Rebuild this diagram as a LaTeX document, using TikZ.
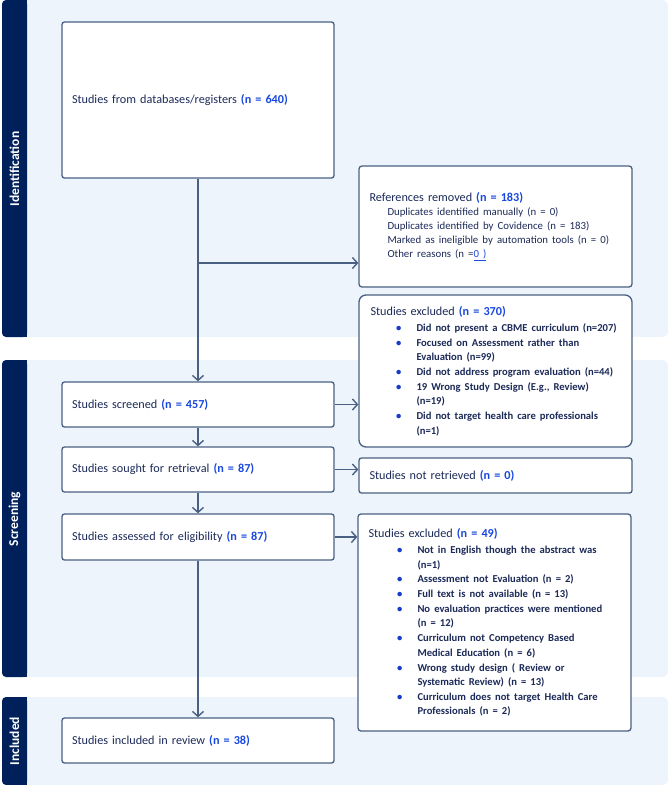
\documentclass[tikz,border=0pt]{standalone}
\usepackage{fontspec}
\setmainfont{Carlito}
\usepackage{enumitem}
\usetikzlibrary{arrows.meta, positioning, calc}

\definecolor{tabnavy}{RGB}{0, 32, 91}
\definecolor{bandbg}{RGB}{238, 244, 252}
\definecolor{boxline}{RGB}{74, 96, 130}
\definecolor{textnavy}{RGB}{28, 42, 88}
\definecolor{countblue}{RGB}{24, 72, 224}
\definecolor{dotblue}{RGB}{24, 60, 200}

\newlist{exlist}{itemize}{1}
\setlist[exlist]{label=\textcolor{dotblue}{\textbullet}, labelsep=15pt, itemsep=0.3pt, parsep=0pt, topsep=1.5pt, partopsep=0pt, before=\fontsize{10.6}{14.5}\selectfont\bfseries}

\newcommand{\cnt}[1]{\textcolor{countblue}{\textbf{#1}}}

\tikzset{
  band/.style={fill=bandbg, rounded corners=6pt},
  tab/.style={fill=tabnavy, rounded corners=4pt},
  tablabel/.style={rotate=90, text=white, font=\fontsize{13.5}{15}\selectfont\bfseries},
  flowbox/.style={draw=boxline, fill=white, line width=1.3pt, rounded corners=2.5pt, align=left, inner xsep=10pt, inner ysep=0pt, text=textnavy, font=\fontsize{12.2}{14.5}\selectfont},
  flow/.style={draw=boxline, line width=1.4pt, -{Straight Barb[length=5pt, width=11pt, line width=1.4pt]}},
}

\begin{document}
\begin{tikzpicture}[x=1pt, y=-1pt]
  \useasboundingbox (0,0) rectangle (669,785);

  % Bands
  \fill[band] (20,0) rectangle (668,337);
  \fill[band] (20,360) rectangle (668,677);
  \fill[band] (20,697) rectangle (668,785);

  % Tabs
  \fill[tab] (2,0) rectangle (27,337);
  \fill[tab] (2,360) rectangle (27,677);
  \fill[tab] (2,697) rectangle (27,785);
  \fill[tabnavy] (15,0) rectangle (27,337);
  \fill[tabnavy] (15,360) rectangle (27,677);
  \fill[tabnavy] (15,697) rectangle (27,785);
  \node[tablabel] (identlbl) at (14.5,169) {Identification};
  \node[tablabel] (screenlbl) at (14.5,519) {Screening};
  \node[tablabel] (incllbl) at (14.5,741) {Included};

  % Left column
  \node[flowbox, minimum width=272pt, minimum height=156pt, text width=252pt] (dbs) at (198,100) {Studies from databases/registers \cnt{(n = 640)}};
  \node[flowbox, minimum width=272pt, minimum height=45pt, text width=252pt] (screened) at (198,404.5) {Studies screened \cnt{(n = 457)}};
  \node[flowbox, minimum width=272pt, minimum height=45pt, text width=252pt] (sought) at (198,469.5) {Studies sought for retrieval \cnt{(n = 87)}};
  \node[flowbox, minimum width=272pt, minimum height=46pt, text width=252pt] (assessed) at (198,537) {Studies assessed for eligibility \cnt{(n = 87)}};
  \node[flowbox, minimum width=272pt, minimum height=45pt, text width=252pt] (included) at (198,740.5) {Studies included in review \cnt{(n = 38)}};

  % Right column
  \node[flowbox, rounded corners=3pt, minimum width=273pt, minimum height=121pt, text width=252pt, inner xsep=10.5pt] (refs) at (495.5,226.5) {References removed \cnt{(n = 183)}\\
    {\fontsize{10.8}{14}\selectfont
    \hspace*{18pt}Duplicates identified manually (n = 0)\\
    \hspace*{18pt}Duplicates identified by Covidence (n = 183)\\
    \hspace*{18pt}Marked as ineligible by automation tools (n = 0)\\
    \hspace*{18pt}Other reasons (n =\textcolor{countblue}{\underline{0 )}}\par}};

  \node[flowbox, rounded corners=7pt, minimum width=273pt, minimum height=152pt, text width=250pt, inner xsep=11.5pt] (excl1) at (495.5,371) {Studies excluded \cnt{(n = 370)}
    \begin{exlist}[leftmargin=46pt]
      \item Did not present a CBME curriculum (n=207)
      \item Focused on Assessment rather than\\Evaluation (n=99)
      \item Did not address program evaluation (n=44)
      \item 19 Wrong Study Design (E.g., Review)\\(n=19)
      \item Did not target health care professionals\\(n=1)
    \end{exlist}};

  \node[flowbox, minimum width=273pt, minimum height=35pt, text width=252pt] (notret) at (495.5,475.5) {Studies not retrieved \cnt{(n = 0)}};

  \node[flowbox, rounded corners=3pt, minimum width=273pt, minimum height=217pt, text width=252pt, inner xsep=10.5pt] (excl2) at (494.5,622.5) {Studies excluded \cnt{(n = 49)}
    \begin{exlist}[leftmargin=49pt]
      \item Not in English though the abstract was\\(n=1)
      \item Assessment not Evaluation (n = 2)
      \item Full text is not available (n = 13)
      \item No evaluation practices were mentioned\\(n = 12)
      \item Curriculum not Competency Based\\Medical Education (n = 6)
      \item Wrong study design ( Review or\\Systematic Review) (n = 13)
      \item Curriculum does not target Health Care\\Professionals (n = 2)
    \end{exlist}};

  % Connectors
  \coordinate (split) at (198,263);
  \draw[flow] (dbs.south) -- (screened.north);
  \draw[flow] (split) -- (split -| refs.west);
  \draw[flow] (screened.east) -- (screened.east -| excl1.west);
  \draw[flow] (screened.south) -- (sought.north);
  \draw[flow] (sought.east) -- (sought.east -| notret.west);
  \draw[flow] (sought.south) -- (assessed.north);
  \draw[flow] (assessed.east) -- (assessed.east -| excl2.west);
  \draw[flow] (assessed.south) -- (included.north);
\end{tikzpicture}
\end{document}
